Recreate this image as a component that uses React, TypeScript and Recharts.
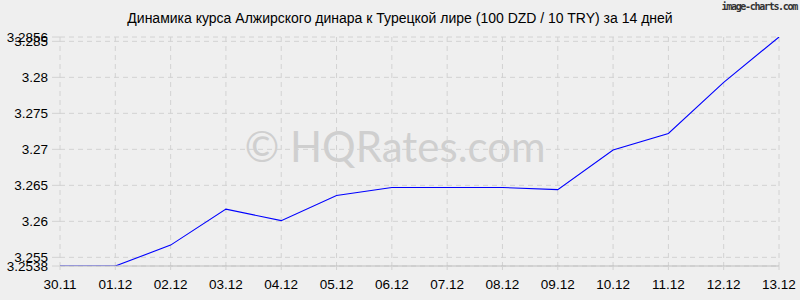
import React from "react";
import { LineChart, Line, XAxis, YAxis, CartesianGrid } from "recharts";

const dates = ["30.11", "01.12", "02.12", "03.12", "04.12", "05.12", "06.12", "07.12", "08.12", "09.12", "10.12", "11.12", "12.12", "13.12"];
const rates = [3.2538, 3.2538, 3.2567, 3.2617, 3.2601, 3.2636, 3.2647, 3.2647, 3.2647, 3.2644, 3.2699, 3.2722, 3.2793, 3.2856];
const yTicks = [3.2538, 3.255, 3.26, 3.265, 3.27, 3.275, 3.28, 3.285, 3.2856];
const yDomain = [3.2538, 3.2856];
const title = "Динамика курса Алжирского динара к Турецкой лире (100 DZD / 10 TRY) за 14 дней";

const data = dates.map((d, i) => ({ date: d, rate: rates[i] }));

const font = "'Liberation Sans', Arial, sans-serif";

export default function App() {
  return (
    <div style={{ position: "absolute", left: 0, top: 0, width: 800, height: 300, background: "#efefef", overflow: "hidden", fontFamily: font }}>
      <div style={{ position: "absolute", left: 0, top: 121, width: 790, textAlign: "center", fontFamily: "Lato, 'Open Sans', sans-serif", fontSize: 42, color: "#cfcfcf", lineHeight: "50px" }}>
        © HQRates.com
      </div>
      <div style={{ position: "absolute", left: 0, top: 10, width: 800, textAlign: "center", fontSize: 14, color: "#000", lineHeight: "16px" }}>
        {title}
      </div>
      <div style={{ position: "absolute", right: 3, top: 1, fontSize: 10, letterSpacing: "-1.3px", fontWeight: "bold", color: "#333", fontFamily: "'DejaVu Sans Mono', monospace", lineHeight: "12px" }}>
        image-charts.com
      </div>
      <div style={{ position: "absolute", left: 0, top: 0 }}>
        <LineChart width={800} height={300} data={data} margin={{ top: 37, right: 21, bottom: 0, left: 0 }}>
          <CartesianGrid stroke="#d2d2d2" strokeDasharray="5 4" />
          <XAxis
            dataKey="date"
            interval={0}
            axisLine={{ stroke: "#bdbdbd" }}
            tickLine={{ stroke: "#d2d2d2", strokeDasharray: "4 3" }}
            tickSize={4}
            tickMargin={9}
            height={34}
            tick={{ fill: "#000", fontSize: 13.5, fontFamily: font }}
          />
          <YAxis
            type="number"
            domain={yDomain}
            ticks={yTicks}
            interval={0}
            width={60}
            axisLine={false}
            tickLine={{ stroke: "#d2d2d2" }}
            tickSize={8}
            tickMargin={4}
            allowDataOverflow
            tick={{ fill: "#000", fontSize: 13.5, fontFamily: font }}
          />
          <Line type="linear" dataKey="rate" stroke="#0000ff" strokeWidth={1.1} dot={false} isAnimationActive={false} />
        </LineChart>
      </div>
    </div>
  );
}
